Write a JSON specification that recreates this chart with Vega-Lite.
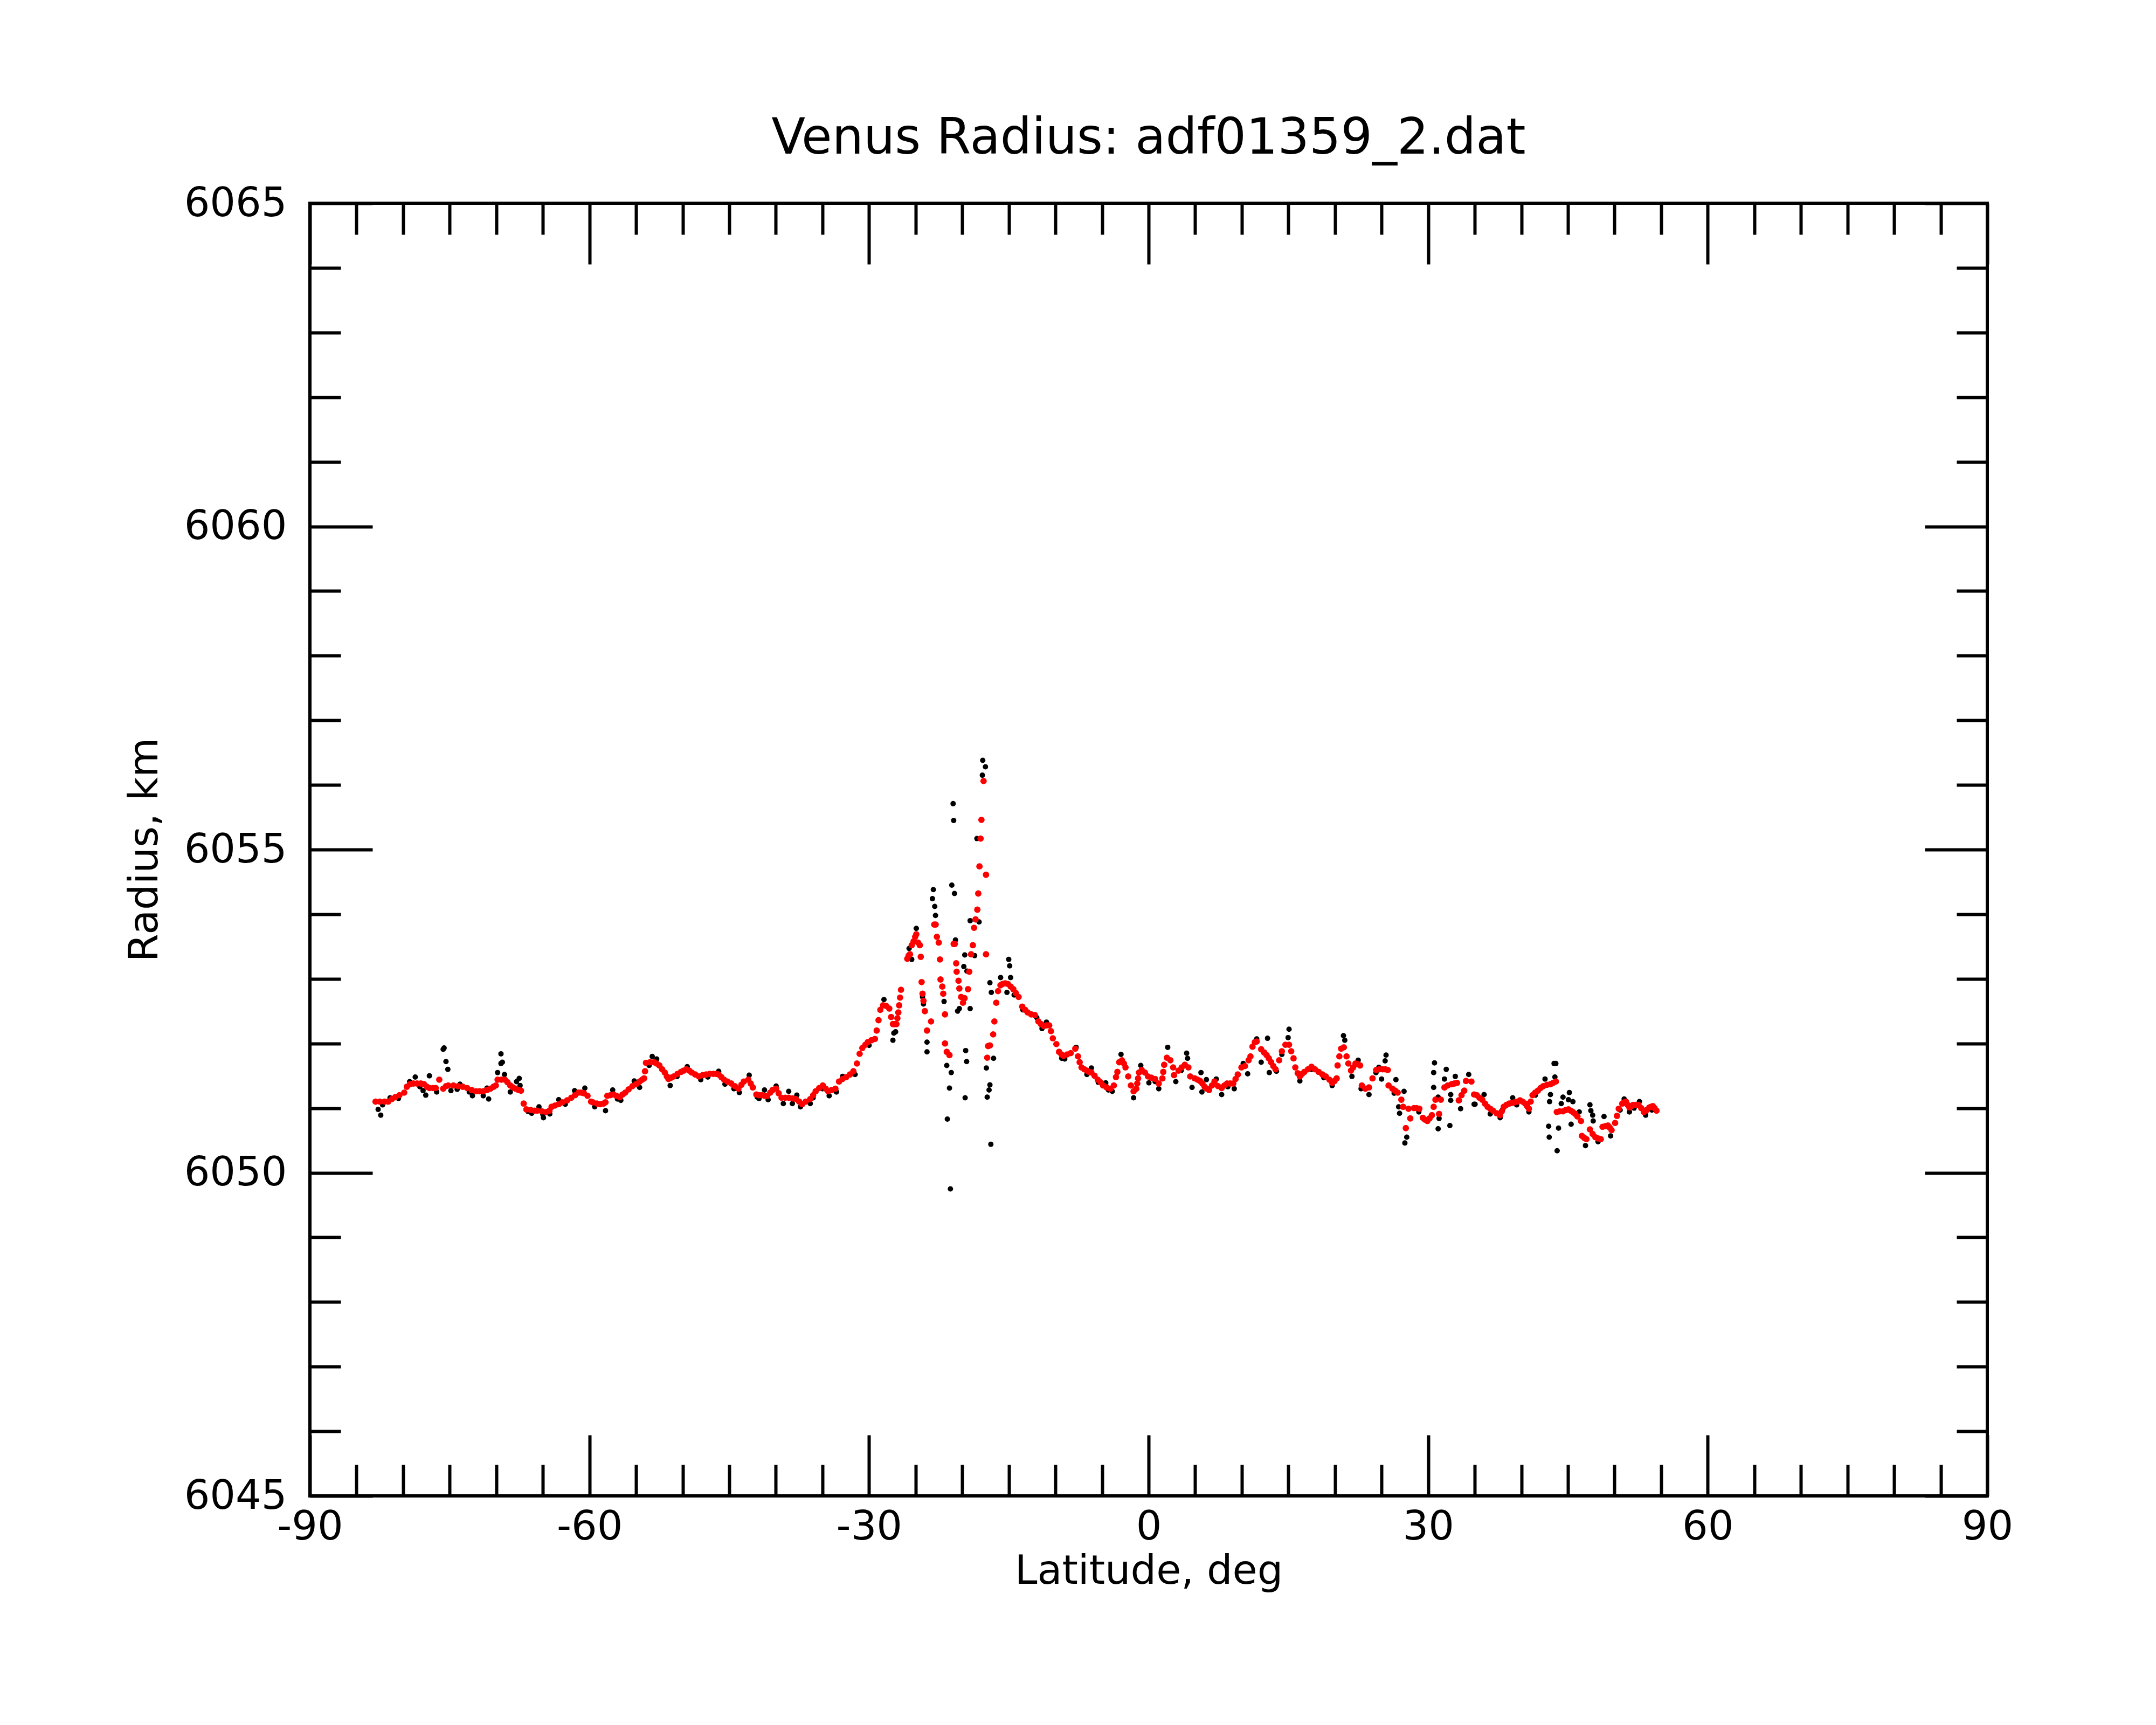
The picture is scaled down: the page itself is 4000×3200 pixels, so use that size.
{
  "$schema": "https://vega.github.io/schema/vega-lite/v6.json",
  "autosize": "none",
  "width": 3112,
  "height": 2398,
  "padding": {"left": 575, "top": 377, "right": 313, "bottom": 425},
  "background": "white",
  "title": {"text": "Venus Radius: adf01359_2.dat", "font": "DejaVu Sans", "fontSize": 92, "fontWeight": "normal", "color": "black", "anchor": "middle", "frame": "group", "baseline": "alphabetic", "offset": -37},
  "config": {
    "view": {"stroke": "black", "strokeWidth": 6},
    "axis": {"domain": false, "grid": false, "tickColor": "black", "tickWidth": 6, "labelFont": "DejaVu Sans", "labelFontSize": 75, "labelColor": "black", "labelFlush": false, "labelLimit": 0, "labelExpr": "datum.value + ''", "titleFont": "DejaVu Sans", "titleFontSize": 75, "titleFontWeight": "normal", "titleColor": "black"}
  },
  "datasets": {
    "raw": [
      {"lat": -82.68, "r": 6050.98}, {"lat": -82.4, "r": 6050.89}, {"lat": -82.2, "r": 6051.05}, {"lat": -81.4, "r": 6051.16},
      {"lat": -80.5, "r": 6051.15}, {"lat": -78.2, "r": 6051.33}, {"lat": -74.2, "r": 6051.29}, {"lat": -72.9, "r": 6051.25},
      {"lat": -79.3, "r": 6051.41}, {"lat": -78.7, "r": 6051.48}, {"lat": -77.86, "r": 6051.27}, {"lat": -77.57, "r": 6051.2},
      {"lat": -77.18, "r": 6051.5}, {"lat": -76.4, "r": 6051.25}, {"lat": -75.7, "r": 6051.91}, {"lat": -75.6, "r": 6051.93},
      {"lat": -75.4, "r": 6051.72}, {"lat": -75.2, "r": 6051.6}, {"lat": -74.87, "r": 6051.27}, {"lat": -73.9, "r": 6051.37},
      {"lat": -72.56, "r": 6051.19}, {"lat": -71.4, "r": 6051.19}, {"lat": -71.0, "r": 6051.31}, {"lat": -70.82, "r": 6051.14},
      {"lat": -69.5, "r": 6051.84}, {"lat": -69.5, "r": 6051.69}, {"lat": -69.35, "r": 6051.71}, {"lat": -69.86, "r": 6051.55},
      {"lat": -69.12, "r": 6051.52}, {"lat": -68.5, "r": 6051.25}, {"lat": -67.83, "r": 6051.41}, {"lat": -67.54, "r": 6051.46},
      {"lat": -67.45, "r": 6051.35}, {"lat": -66.6, "r": 6050.95}, {"lat": -66.2, "r": 6050.92}, {"lat": -65.0, "r": 6050.9},
      {"lat": -65.42, "r": 6051.02}, {"lat": -64.94, "r": 6050.85}, {"lat": -64.26, "r": 6050.91}, {"lat": -63.3, "r": 6051.13},
      {"lat": -62.6, "r": 6051.06}, {"lat": -61.6, "r": 6051.27}, {"lat": -60.5, "r": 6051.31}, {"lat": -57.0, "r": 6051.14},
      {"lat": -59.44, "r": 6051.02}, {"lat": -58.28, "r": 6050.96}, {"lat": -57.51, "r": 6051.28}, {"lat": -56.64, "r": 6051.12},
      {"lat": -55.2, "r": 6051.42}, {"lat": -54.62, "r": 6051.32}, {"lat": -53.27, "r": 6051.8}, {"lat": -52.79, "r": 6051.76},
      {"lat": -53.6, "r": 6051.66}, {"lat": -50.6, "r": 6051.49}, {"lat": -47.3, "r": 6051.48}, {"lat": -44.5, "r": 6051.3},
      {"lat": -51.34, "r": 6051.35}, {"lat": -49.51, "r": 6051.64}, {"lat": -48.06, "r": 6051.44}, {"lat": -46.14, "r": 6051.57},
      {"lat": -45.46, "r": 6051.37}, {"lat": -43.92, "r": 6051.24}, {"lat": -42.86, "r": 6051.51}, {"lat": -42.0, "r": 6051.17},
      {"lat": -41.22, "r": 6051.28}, {"lat": -40.83, "r": 6051.13}, {"lat": -39.97, "r": 6051.34}, {"lat": -39.2, "r": 6051.07},
      {"lat": -41.8, "r": 6051.15}, {"lat": -36.0, "r": 6051.16}, {"lat": -35.0, "r": 6051.3}, {"lat": -33.5, "r": 6051.25},
      {"lat": -38.62, "r": 6051.26}, {"lat": -38.23, "r": 6051.07}, {"lat": -37.75, "r": 6051.2}, {"lat": -37.36, "r": 6051.02},
      {"lat": -36.31, "r": 6051.07}, {"lat": -34.28, "r": 6051.19}, {"lat": -32.84, "r": 6051.49}, {"lat": -28.4, "r": 6052.68},
      {"lat": -31.5, "r": 6051.52}, {"lat": -30.0, "r": 6051.97},
      {"lat": -27.44, "r": 6052.05}, {"lat": -27.34, "r": 6052.16}, {"lat": -27.15, "r": 6052.18}, {"lat": -25.7, "r": 6053.47},
      {"lat": -25.42, "r": 6053.3}, {"lat": -24.93, "r": 6053.78}, {"lat": -24.26, "r": 6052.72}, {"lat": -24.16, "r": 6052.61},
      {"lat": -23.78, "r": 6052.02}, {"lat": -23.78, "r": 6051.87}, {"lat": -23.2, "r": 6054.24}, {"lat": -23.1, "r": 6054.38},
      {"lat": -22.95, "r": 6054.12}, {"lat": -22.87, "r": 6053.98}, {"lat": -21.95, "r": 6052.65}, {"lat": -21.66, "r": 6051.66},
      {"lat": -21.6, "r": 6050.83}, {"lat": -21.37, "r": 6051.31}, {"lat": -21.27, "r": 6049.75}, {"lat": -21.18, "r": 6051.55},
      {"lat": -21.12, "r": 6054.45}, {"lat": -20.98, "r": 6055.71}, {"lat": -20.92, "r": 6055.45}, {"lat": -20.83, "r": 6054.32},
      {"lat": -20.73, "r": 6053.6}, {"lat": -20.5, "r": 6052.5}, {"lat": -20.31, "r": 6052.54}, {"lat": -19.83, "r": 6053.19},
      {"lat": -19.73, "r": 6053.37}, {"lat": -19.69, "r": 6051.16}, {"lat": -19.63, "r": 6051.89}, {"lat": -19.53, "r": 6051.72},
      {"lat": -19.5, "r": 6053.12}, {"lat": -19.15, "r": 6053.9}, {"lat": -19.15, "r": 6052.54}, {"lat": -18.67, "r": 6053.36},
      {"lat": -18.42, "r": 6055.17}, {"lat": -18.19, "r": 6053.88}, {"lat": -17.84, "r": 6056.15}, {"lat": -17.8, "r": 6056.38},
      {"lat": -17.51, "r": 6056.28}, {"lat": -17.41, "r": 6051.62}, {"lat": -17.32, "r": 6051.17}, {"lat": -17.12, "r": 6051.28},
      {"lat": -17.03, "r": 6051.36}, {"lat": -17.03, "r": 6052.94}, {"lat": -16.93, "r": 6050.44}, {"lat": -16.88, "r": 6052.79},
      {"lat": -16.64, "r": 6051.77}, {"lat": -15.88, "r": 6053.02}, {"lat": -15.2, "r": 6052.79}, {"lat": -15.01, "r": 6053.3},
      {"lat": -14.91, "r": 6053.2}, {"lat": -14.81, "r": 6053.02}, {"lat": -14.43, "r": 6052.75}, {"lat": -11.44, "r": 6052.23},
      {"lat": -13.5, "r": 6052.52}, {"lat": -12.0, "r": 6052.4}, {"lat": -9.0, "r": 6051.76}, {"lat": -5.4, "r": 6051.4},
      {"lat": -3.9, "r": 6051.26}, {"lat": 0.7, "r": 6051.41}, {"lat": 3.5, "r": 6051.58}, {"lat": 8.5, "r": 6051.33},
      {"lat": -10.96, "r": 6052.33}, {"lat": -9.32, "r": 6051.77}, {"lat": -7.78, "r": 6051.94}, {"lat": -6.62, "r": 6051.52},
      {"lat": -6.14, "r": 6051.62}, {"lat": -4.6, "r": 6051.39}, {"lat": -4.31, "r": 6051.28}, {"lat": -2.96, "r": 6051.83},
      {"lat": -1.61, "r": 6051.16}, {"lat": -0.84, "r": 6051.66}, {"lat": 0.03, "r": 6051.39}, {"lat": 1.09, "r": 6051.3},
      {"lat": 2.05, "r": 6051.94}, {"lat": 2.92, "r": 6051.41}, {"lat": 4.08, "r": 6051.85}, {"lat": 4.18, "r": 6051.77},
      {"lat": 4.66, "r": 6051.32}, {"lat": 5.62, "r": 6051.55}, {"lat": 5.72, "r": 6051.25}, {"lat": 6.2, "r": 6051.44},
      {"lat": 7.26, "r": 6051.45}, {"lat": 7.84, "r": 6051.21}, {"lat": 9.19, "r": 6051.3}, {"lat": 10.15, "r": 6051.69},
      {"lat": 11.6, "r": 6052.07}, {"lat": 14.3, "r": 6051.83}, {"lat": 17.5, "r": 6051.6}, {"lat": 18.8, "r": 6051.47},
      {"lat": 10.63, "r": 6051.53}, {"lat": 12.08, "r": 6051.71}, {"lat": 12.76, "r": 6052.08}, {"lat": 12.95, "r": 6051.55},
      {"lat": 13.72, "r": 6051.57}, {"lat": 14.97, "r": 6052.09}, {"lat": 15.07, "r": 6052.22}, {"lat": 16.23, "r": 6051.42},
      {"lat": 19.7, "r": 6051.35}, {"lat": 20.91, "r": 6052.12}, {"lat": 21.05, "r": 6052.05}, {"lat": 21.82, "r": 6051.49},
      {"lat": 22.49, "r": 6051.74}, {"lat": 23.65, "r": 6051.21}, {"lat": 24.71, "r": 6051.63}, {"lat": 25.0, "r": 6051.45},
      {"lat": 22.8, "r": 6051.3}, {"lat": 24.4, "r": 6051.55}, {"lat": 29.0, "r": 6050.94}, {"lat": 38.0, "r": 6050.98},
      {"lat": 25.38, "r": 6051.73}, {"lat": 25.48, "r": 6051.82}, {"lat": 26.35, "r": 6051.23}, {"lat": 26.54, "r": 6051.44},
      {"lat": 26.83, "r": 6051.02}, {"lat": 26.93, "r": 6050.92}, {"lat": 27.41, "r": 6051.26}, {"lat": 27.5, "r": 6050.46},
      {"lat": 27.7, "r": 6050.55}, {"lat": 30.59, "r": 6051.32}, {"lat": 30.59, "r": 6051.55}, {"lat": 30.68, "r": 6051.7},
      {"lat": 31.07, "r": 6051.17}, {"lat": 31.07, "r": 6050.68}, {"lat": 31.17, "r": 6050.84}, {"lat": 31.75, "r": 6051.45},
      {"lat": 31.94, "r": 6051.6}, {"lat": 32.33, "r": 6050.73}, {"lat": 32.42, "r": 6051.21}, {"lat": 32.42, "r": 6051.12},
      {"lat": 32.91, "r": 6051.49}, {"lat": 33.48, "r": 6050.99}, {"lat": 34.35, "r": 6051.52}, {"lat": 34.93, "r": 6051.06},
      {"lat": 35.03, "r": 6051.06}, {"lat": 36.0, "r": 6051.21}, {"lat": 36.66, "r": 6050.91}, {"lat": 37.72, "r": 6050.85},
      {"lat": 39.5, "r": 6051.05}, {"lat": 41.5, "r": 6051.2}, {"lat": 50.6, "r": 6050.97}, {"lat": 52.1, "r": 6051.0},
      {"lat": 54.0, "r": 6050.97},
      {"lat": 39.07, "r": 6051.16}, {"lat": 40.81, "r": 6050.94}, {"lat": 42.54, "r": 6051.45}, {"lat": 42.93, "r": 6050.72},
      {"lat": 42.99, "r": 6050.55}, {"lat": 43.03, "r": 6051.1}, {"lat": 43.12, "r": 6051.21}, {"lat": 43.51, "r": 6051.69},
      {"lat": 43.6, "r": 6051.48}, {"lat": 43.7, "r": 6051.69}, {"lat": 43.84, "r": 6050.34}, {"lat": 43.99, "r": 6050.69},
      {"lat": 44.28, "r": 6051.07}, {"lat": 44.47, "r": 6051.17}, {"lat": 45.05, "r": 6051.13}, {"lat": 45.15, "r": 6051.24},
      {"lat": 45.34, "r": 6050.75}, {"lat": 45.53, "r": 6051.1}, {"lat": 46.21, "r": 6050.94}, {"lat": 46.88, "r": 6050.42},
      {"lat": 47.36, "r": 6051.05}, {"lat": 47.46, "r": 6050.96}, {"lat": 47.65, "r": 6050.89}, {"lat": 47.71, "r": 6050.8},
      {"lat": 48.23, "r": 6050.48}, {"lat": 48.87, "r": 6050.87}, {"lat": 49.58, "r": 6050.57}, {"lat": 51.03, "r": 6051.14},
      {"lat": 51.6, "r": 6050.94}, {"lat": 52.67, "r": 6051.1}, {"lat": 53.34, "r": 6050.89}
    ],
    "fit": [
      {"lat": -82.96, "r": 6051.1}, {"lat": -82.5, "r": 6051.1}, {"lat": -82.0, "r": 6051.1}, {"lat": -81.6, "r": 6051.1},
      {"lat": -81.2, "r": 6051.14}, {"lat": -80.84, "r": 6051.17}, {"lat": -80.4, "r": 6051.2}, {"lat": -79.88, "r": 6051.24},
      {"lat": -79.6, "r": 6051.33}, {"lat": -79.25, "r": 6051.37}, {"lat": -78.9, "r": 6051.38}, {"lat": -78.5, "r": 6051.38},
      {"lat": -78.1, "r": 6051.38}, {"lat": -77.76, "r": 6051.37}, {"lat": -77.45, "r": 6051.33}, {"lat": -77.18, "r": 6051.31},
      {"lat": -76.8, "r": 6051.31}, {"lat": -76.5, "r": 6051.31}, {"lat": -76.12, "r": 6051.44}, {"lat": -75.7, "r": 6051.3},
      {"lat": -75.4, "r": 6051.34}, {"lat": -75.16, "r": 6051.35}, {"lat": -74.6, "r": 6051.35}, {"lat": -74.1, "r": 6051.34},
      {"lat": -73.6, "r": 6051.33}, {"lat": -73.13, "r": 6051.31}, {"lat": -72.65, "r": 6051.28}, {"lat": -72.17, "r": 6051.26},
      {"lat": -71.8, "r": 6051.26}, {"lat": -71.4, "r": 6051.26}, {"lat": -71.0, "r": 6051.28}, {"lat": -70.63, "r": 6051.3},
      {"lat": -70.3, "r": 6051.33}, {"lat": -70.05, "r": 6051.35}, {"lat": -69.86, "r": 6051.44}, {"lat": -69.45, "r": 6051.44},
      {"lat": -69.08, "r": 6051.44}, {"lat": -68.8, "r": 6051.4}, {"lat": -68.5, "r": 6051.35}, {"lat": -68.2, "r": 6051.32},
      {"lat": -67.93, "r": 6051.3}, {"lat": -67.6, "r": 6051.28}, {"lat": -67.35, "r": 6051.27}, {"lat": -67.06, "r": 6051.07},
      {"lat": -66.77, "r": 6050.98}, {"lat": -66.3, "r": 6050.97}, {"lat": -65.9, "r": 6050.96}, {"lat": -65.6, "r": 6050.96},
      {"lat": -65.1, "r": 6050.95}, {"lat": -64.65, "r": 6050.94}, {"lat": -64.3, "r": 6050.96}, {"lat": -64.07, "r": 6051.02},
      {"lat": -63.7, "r": 6051.04}, {"lat": -63.3, "r": 6051.06}, {"lat": -62.9, "r": 6051.09}, {"lat": -62.4, "r": 6051.12},
      {"lat": -61.95, "r": 6051.16}, {"lat": -61.55, "r": 6051.2}, {"lat": -61.18, "r": 6051.24}, {"lat": -60.9, "r": 6051.24},
      {"lat": -60.6, "r": 6051.23}, {"lat": -60.21, "r": 6051.19}, {"lat": -59.83, "r": 6051.1}, {"lat": -59.63, "r": 6051.09},
      {"lat": -59.2, "r": 6051.07}, {"lat": -58.86, "r": 6051.06}, {"lat": -58.5, "r": 6051.07}, {"lat": -58.28, "r": 6051.09},
      {"lat": -58.09, "r": 6051.19}, {"lat": -57.75, "r": 6051.2}, {"lat": -57.42, "r": 6051.21}, {"lat": -57.1, "r": 6051.19},
      {"lat": -56.74, "r": 6051.17}, {"lat": -56.45, "r": 6051.21}, {"lat": -56.16, "r": 6051.24}, {"lat": -55.8, "r": 6051.29},
      {"lat": -55.39, "r": 6051.34}, {"lat": -55.0, "r": 6051.37}, {"lat": -54.62, "r": 6051.41}, {"lat": -54.35, "r": 6051.44},
      {"lat": -54.14, "r": 6051.46}, {"lat": -54.04, "r": 6051.57}, {"lat": -53.94, "r": 6051.7}, {"lat": -53.5, "r": 6051.71},
      {"lat": -53.08, "r": 6051.71}, {"lat": -52.8, "r": 6051.69}, {"lat": -52.5, "r": 6051.66}, {"lat": -52.2, "r": 6051.6},
      {"lat": -51.92, "r": 6051.55}, {"lat": -51.7, "r": 6051.49}, {"lat": -51.53, "r": 6051.45}, {"lat": -51.25, "r": 6051.47},
      {"lat": -50.96, "r": 6051.49}, {"lat": -50.55, "r": 6051.53}, {"lat": -50.18, "r": 6051.56}, {"lat": -49.9, "r": 6051.58},
      {"lat": -49.61, "r": 6051.6}, {"lat": -49.3, "r": 6051.58}, {"lat": -49.03, "r": 6051.55}, {"lat": -48.65, "r": 6051.52},
      {"lat": -48.26, "r": 6051.49}, {"lat": -47.85, "r": 6051.51}, {"lat": -47.48, "r": 6051.52}, {"lat": -47.1, "r": 6051.53},
      {"lat": -46.71, "r": 6051.53}, {"lat": -46.4, "r": 6051.53}, {"lat": -46.14, "r": 6051.52}, {"lat": -45.85, "r": 6051.48},
      {"lat": -45.56, "r": 6051.44}, {"lat": -45.2, "r": 6051.41}, {"lat": -44.79, "r": 6051.38}, {"lat": -44.4, "r": 6051.34},
      {"lat": -44.02, "r": 6051.3}, {"lat": -43.7, "r": 6051.36}, {"lat": -43.44, "r": 6051.41}, {"lat": -42.96, "r": 6051.44},
      {"lat": -42.7, "r": 6051.38}, {"lat": -42.47, "r": 6051.32}, {"lat": -42.09, "r": 6051.21}, {"lat": -41.8, "r": 6051.2},
      {"lat": -41.51, "r": 6051.2}, {"lat": -41.2, "r": 6051.19}, {"lat": -40.93, "r": 6051.19}, {"lat": -40.6, "r": 6051.24},
      {"lat": -40.35, "r": 6051.28}, {"lat": -39.97, "r": 6051.3}, {"lat": -39.7, "r": 6051.23}, {"lat": -39.39, "r": 6051.16},
      {"lat": -39.0, "r": 6051.16}, {"lat": -38.62, "r": 6051.16}, {"lat": -38.2, "r": 6051.15}, {"lat": -37.85, "r": 6051.14},
      {"lat": -37.5, "r": 6051.1}, {"lat": -37.17, "r": 6051.06}, {"lat": -36.8, "r": 6051.1}, {"lat": -36.31, "r": 6051.14},
      {"lat": -36.0, "r": 6051.2}, {"lat": -35.73, "r": 6051.26}, {"lat": -35.35, "r": 6051.31}, {"lat": -34.96, "r": 6051.35},
      {"lat": -34.65, "r": 6051.3}, {"lat": -34.38, "r": 6051.26}, {"lat": -34.0, "r": 6051.28}, {"lat": -33.61, "r": 6051.3},
      {"lat": -33.22, "r": 6051.41}, {"lat": -32.85, "r": 6051.45}, {"lat": -32.45, "r": 6051.48}, {"lat": -32.05, "r": 6051.52},
      {"lat": -31.68, "r": 6051.57}, {"lat": -31.3, "r": 6051.69}, {"lat": -31.01, "r": 6051.84}, {"lat": -30.72, "r": 6051.93},
      {"lat": -30.4, "r": 6051.98}, {"lat": -30.14, "r": 6052.02}, {"lat": -29.75, "r": 6052.05}, {"lat": -29.37, "r": 6052.07},
      {"lat": -29.18, "r": 6052.2}, {"lat": -28.98, "r": 6052.36}, {"lat": -28.79, "r": 6052.52}, {"lat": -28.5, "r": 6052.59},
      {"lat": -28.15, "r": 6052.58}, {"lat": -27.83, "r": 6052.54}, {"lat": -27.63, "r": 6052.41}, {"lat": -27.44, "r": 6052.3},
      {"lat": -27.25, "r": 6052.3}, {"lat": -27.06, "r": 6052.3}, {"lat": -26.96, "r": 6052.39}, {"lat": -26.86, "r": 6052.48},
      {"lat": -26.77, "r": 6052.59}, {"lat": -26.67, "r": 6052.71}, {"lat": -26.57, "r": 6052.83}, {"lat": -25.9, "r": 6053.31},
      {"lat": -25.75, "r": 6053.36}, {"lat": -25.61, "r": 6053.38}, {"lat": -25.42, "r": 6053.52}, {"lat": -25.22, "r": 6053.58},
      {"lat": -25.05, "r": 6053.65}, {"lat": -24.93, "r": 6053.69}, {"lat": -24.74, "r": 6053.56}, {"lat": -24.55, "r": 6053.52},
      {"lat": -24.45, "r": 6053.34}, {"lat": -24.36, "r": 6052.95}, {"lat": -24.26, "r": 6052.77}, {"lat": -24.16, "r": 6052.66},
      {"lat": -24.01, "r": 6052.5}, {"lat": -23.78, "r": 6052.2}, {"lat": -23.35, "r": 6052.34}, {"lat": -23.01, "r": 6053.84},
      {"lat": -22.85, "r": 6053.84}, {"lat": -22.72, "r": 6053.65}, {"lat": -22.52, "r": 6053.56}, {"lat": -22.39, "r": 6053.3},
      {"lat": -22.33, "r": 6052.99}, {"lat": -22.14, "r": 6052.88}, {"lat": -22.04, "r": 6052.77}, {"lat": -21.85, "r": 6052.45},
      {"lat": -21.85, "r": 6052.0}, {"lat": -21.66, "r": 6051.87}, {"lat": -21.37, "r": 6051.82}, {"lat": -20.92, "r": 6053.54},
      {"lat": -20.8, "r": 6053.54}, {"lat": -20.65, "r": 6053.24}, {"lat": -20.6, "r": 6053.11}, {"lat": -20.4, "r": 6052.97},
      {"lat": -20.31, "r": 6052.85}, {"lat": -20.12, "r": 6052.72}, {"lat": -19.92, "r": 6052.63}, {"lat": -19.75, "r": 6052.7},
      {"lat": -19.38, "r": 6052.84}, {"lat": -19.25, "r": 6053.11}, {"lat": -19.05, "r": 6053.38}, {"lat": -18.86, "r": 6053.52},
      {"lat": -18.73, "r": 6053.79}, {"lat": -18.57, "r": 6053.92}, {"lat": -18.38, "r": 6054.07}, {"lat": -18.28, "r": 6054.32},
      {"lat": -18.15, "r": 6054.74}, {"lat": -18.03, "r": 6055.17}, {"lat": -17.94, "r": 6055.46}, {"lat": -17.71, "r": 6056.06},
      {"lat": -17.45, "r": 6054.61}, {"lat": -17.45, "r": 6053.38}, {"lat": -17.32, "r": 6051.78}, {"lat": -17.22, "r": 6051.96},
      {"lat": -17.03, "r": 6051.97}, {"lat": -16.68, "r": 6052.14}, {"lat": -16.55, "r": 6052.34}, {"lat": -16.35, "r": 6052.63},
      {"lat": -16.16, "r": 6052.81}, {"lat": -15.9, "r": 6052.9}, {"lat": -15.68, "r": 6052.92}, {"lat": -15.4, "r": 6052.93},
      {"lat": -15.1, "r": 6052.92}, {"lat": -14.8, "r": 6052.88}, {"lat": -14.52, "r": 6052.84}, {"lat": -14.25, "r": 6052.78},
      {"lat": -13.95, "r": 6052.72}, {"lat": -13.56, "r": 6052.57}, {"lat": -13.25, "r": 6052.52}, {"lat": -12.98, "r": 6052.48},
      {"lat": -12.6, "r": 6052.45}, {"lat": -12.21, "r": 6052.44}, {"lat": -11.83, "r": 6052.34}, {"lat": -11.55, "r": 6052.3},
      {"lat": -11.25, "r": 6052.27}, {"lat": -10.95, "r": 6052.28}, {"lat": -10.67, "r": 6052.28}, {"lat": -10.48, "r": 6052.19},
      {"lat": -10.28, "r": 6052.08}, {"lat": -9.9, "r": 6051.99}, {"lat": -9.61, "r": 6051.87}, {"lat": -9.35, "r": 6051.83},
      {"lat": -9.13, "r": 6051.81}, {"lat": -8.75, "r": 6051.83}, {"lat": -8.36, "r": 6051.85}, {"lat": -7.87, "r": 6051.92},
      {"lat": -7.58, "r": 6051.8}, {"lat": -7.4, "r": 6051.71}, {"lat": -7.2, "r": 6051.63}, {"lat": -6.9, "r": 6051.6},
      {"lat": -6.62, "r": 6051.58}, {"lat": -6.38, "r": 6051.56}, {"lat": -6.14, "r": 6051.55}, {"lat": -5.8, "r": 6051.5}, {"lat": -5.46, "r": 6051.44},
      {"lat": -5.15, "r": 6051.4}, {"lat": -4.89, "r": 6051.35}, {"lat": -4.5, "r": 6051.32}, {"lat": -4.11, "r": 6051.3},
      {"lat": -3.73, "r": 6051.35}, {"lat": -3.5, "r": 6051.48}, {"lat": -3.35, "r": 6051.56}, {"lat": -3.15, "r": 6051.71},
      {"lat": -2.86, "r": 6051.74}, {"lat": -2.65, "r": 6051.69}, {"lat": -2.48, "r": 6051.63}, {"lat": -2.19, "r": 6051.49},
      {"lat": -1.9, "r": 6051.35}, {"lat": -1.61, "r": 6051.26}, {"lat": -1.32, "r": 6051.3}, {"lat": -1.22, "r": 6051.38},
      {"lat": -1.13, "r": 6051.46}, {"lat": -1.03, "r": 6051.55}, {"lat": -0.74, "r": 6051.59}, {"lat": -0.4, "r": 6051.55},
      {"lat": -0.07, "r": 6051.49}, {"lat": 0.3, "r": 6051.47}, {"lat": 0.7, "r": 6051.45}, {"lat": 1.09, "r": 6051.38},
      {"lat": 1.48, "r": 6051.46}, {"lat": 1.57, "r": 6051.56}, {"lat": 1.67, "r": 6051.67}, {"lat": 1.96, "r": 6051.78},
      {"lat": 2.34, "r": 6051.74}, {"lat": 2.63, "r": 6051.63}, {"lat": 2.73, "r": 6051.51}, {"lat": 3.21, "r": 6051.58},
      {"lat": 3.55, "r": 6051.63}, {"lat": 3.89, "r": 6051.67}, {"lat": 4.27, "r": 6051.63}, {"lat": 4.46, "r": 6051.49},
      {"lat": 4.95, "r": 6051.46}, {"lat": 5.25, "r": 6051.44}, {"lat": 5.52, "r": 6051.42}, {"lat": 5.77, "r": 6051.38}, {"lat": 6.01, "r": 6051.33},
      {"lat": 6.25, "r": 6051.3}, {"lat": 6.49, "r": 6051.28},
      {"lat": 6.8, "r": 6051.35}, {"lat": 7.07, "r": 6051.41}, {"lat": 7.45, "r": 6051.34}, {"lat": 7.84, "r": 6051.31},
      {"lat": 8.13, "r": 6051.35}, {"lat": 8.42, "r": 6051.38}, {"lat": 8.75, "r": 6051.38}, {"lat": 9.09, "r": 6051.38}, {"lat": 9.33, "r": 6051.45},
      {"lat": 9.57, "r": 6051.52}, {"lat": 9.96, "r": 6051.63},
      {"lat": 10.34, "r": 6051.65}, {"lat": 10.73, "r": 6051.74}, {"lat": 10.93, "r": 6051.8}, {"lat": 11.15, "r": 6051.95},
      {"lat": 11.4, "r": 6052.02}, {"lat": 11.6, "r": 6052.03}, {"lat": 12.08, "r": 6051.91}, {"lat": 12.4, "r": 6051.86},
      {"lat": 12.66, "r": 6051.82}, {"lat": 12.9, "r": 6051.77}, {"lat": 13.14, "r": 6051.71}, {"lat": 13.38, "r": 6051.65}, {"lat": 13.62, "r": 6051.6}, {"lat": 14.01, "r": 6051.74},
      {"lat": 14.3, "r": 6051.88}, {"lat": 14.68, "r": 6051.98}, {"lat": 15.07, "r": 6051.98}, {"lat": 15.3, "r": 6051.88},
      {"lat": 15.55, "r": 6051.77}, {"lat": 15.74, "r": 6051.63}, {"lat": 16.0, "r": 6051.54}, {"lat": 16.23, "r": 6051.49},
      {"lat": 16.47, "r": 6051.53}, {"lat": 16.71, "r": 6051.56}, {"lat": 17.1, "r": 6051.6}, {"lat": 17.48, "r": 6051.64}, {"lat": 17.85, "r": 6051.6},
      {"lat": 18.25, "r": 6051.56}, {"lat": 18.65, "r": 6051.52}, {"lat": 19.02, "r": 6051.49}, {"lat": 19.4, "r": 6051.44},
      {"lat": 19.7, "r": 6051.39}, {"lat": 19.95, "r": 6051.42}, {"lat": 20.18, "r": 6051.46}, {"lat": 20.28, "r": 6051.66}, {"lat": 20.47, "r": 6051.8},
      {"lat": 20.66, "r": 6051.92}, {"lat": 20.95, "r": 6051.94}, {"lat": 21.24, "r": 6051.8}, {"lat": 21.43, "r": 6051.69},
      {"lat": 21.72, "r": 6051.58}, {"lat": 21.95, "r": 6051.63}, {"lat": 22.2, "r": 6051.69}, {"lat": 22.45, "r": 6051.68}, {"lat": 22.69, "r": 6051.66},
      {"lat": 22.88, "r": 6051.35}, {"lat": 23.26, "r": 6051.3}, {"lat": 23.65, "r": 6051.32}, {"lat": 24.03, "r": 6051.46},
      {"lat": 24.42, "r": 6051.59}, {"lat": 24.75, "r": 6051.6}, {"lat": 25.1, "r": 6051.6}, {"lat": 25.4, "r": 6051.6},
      {"lat": 25.67, "r": 6051.59}, {"lat": 25.75, "r": 6051.35}, {"lat": 26.16, "r": 6051.3}, {"lat": 26.45, "r": 6051.27},
      {"lat": 26.73, "r": 6051.24}, {"lat": 27.12, "r": 6051.13}, {"lat": 27.31, "r": 6051.02}, {"lat": 27.6, "r": 6050.69},
      {"lat": 28.08, "r": 6050.84}, {"lat": 27.89, "r": 6050.99}, {"lat": 28.47, "r": 6051.0}, {"lat": 28.76, "r": 6051.0}, {"lat": 29.05, "r": 6050.99},
      {"lat": 29.43, "r": 6050.85}, {"lat": 29.67, "r": 6050.82}, {"lat": 29.91, "r": 6050.8}, {"lat": 30.15, "r": 6050.84}, {"lat": 30.4, "r": 6050.89}, {"lat": 30.59, "r": 6051.02},
      {"lat": 30.78, "r": 6051.13}, {"lat": 31.17, "r": 6050.91}, {"lat": 31.36, "r": 6051.13}, {"lat": 31.75, "r": 6051.32},
      {"lat": 32.1, "r": 6051.35}, {"lat": 32.52, "r": 6051.37}, {"lat": 32.8, "r": 6051.38}, {"lat": 33.1, "r": 6051.39}, {"lat": 33.29, "r": 6051.12},
      {"lat": 33.58, "r": 6051.2}, {"lat": 33.87, "r": 6051.27}, {"lat": 34.06, "r": 6051.42}, {"lat": 34.64, "r": 6051.41}, {"lat": 34.93, "r": 6051.21},
      {"lat": 35.22, "r": 6051.2}, {"lat": 35.5, "r": 6051.16}, {"lat": 35.8, "r": 6051.13}, {"lat": 36.1, "r": 6051.07},
      {"lat": 36.38, "r": 6051.02}, {"lat": 36.66, "r": 6050.99}, {"lat": 36.95, "r": 6050.96}, {"lat": 37.35, "r": 6050.92}, {"lat": 37.72, "r": 6050.89},
      {"lat": 37.9, "r": 6050.95}, {"lat": 38.11, "r": 6051.02}, {"lat": 38.4, "r": 6051.05}, {"lat": 38.69, "r": 6051.07}, {"lat": 38.98, "r": 6051.08},
      {"lat": 39.27, "r": 6051.09}, {"lat": 39.56, "r": 6051.1}, {"lat": 39.85, "r": 6051.12}, {"lat": 40.13, "r": 6051.1},
      {"lat": 40.42, "r": 6051.07}, {"lat": 40.62, "r": 6051.03}, {"lat": 40.81, "r": 6050.99}, {"lat": 41.0, "r": 6051.1}, {"lat": 41.2, "r": 6051.2},
      {"lat": 41.48, "r": 6051.24}, {"lat": 41.77, "r": 6051.27}, {"lat": 42.06, "r": 6051.31},
      {"lat": 42.35, "r": 6051.34}, {"lat": 42.75, "r": 6051.36}, {"lat": 43.12, "r": 6051.37}, {"lat": 43.4, "r": 6051.39}, {"lat": 43.7, "r": 6051.41},
      {"lat": 43.8, "r": 6050.94}, {"lat": 44.1, "r": 6050.95}, {"lat": 44.47, "r": 6050.95}, {"lat": 44.76, "r": 6050.97}, {"lat": 45.05, "r": 6050.98},
      {"lat": 45.29, "r": 6050.96}, {"lat": 45.53, "r": 6050.94}, {"lat": 45.78, "r": 6050.91}, {"lat": 46.02, "r": 6050.87}, {"lat": 46.4, "r": 6050.8}, {"lat": 46.5, "r": 6050.57},
      {"lat": 46.74, "r": 6050.54}, {"lat": 46.98, "r": 6050.52}, {"lat": 47.36, "r": 6050.67}, {"lat": 47.65, "r": 6050.6}, {"lat": 47.94, "r": 6050.55},
      {"lat": 48.23, "r": 6050.53}, {"lat": 48.52, "r": 6050.52},
      {"lat": 48.71, "r": 6050.71}, {"lat": 49.0, "r": 6050.72}, {"lat": 49.29, "r": 6050.73}, {"lat": 49.48, "r": 6050.7}, {"lat": 49.68, "r": 6050.66}, {"lat": 50.06, "r": 6050.77},
      {"lat": 50.26, "r": 6050.88}, {"lat": 50.45, "r": 6050.99}, {"lat": 50.83, "r": 6051.07}, {"lat": 51.02, "r": 6051.09}, {"lat": 51.22, "r": 6051.1},
      {"lat": 51.41, "r": 6051.05}, {"lat": 51.6, "r": 6051.01}, {"lat": 51.8, "r": 6051.03}, {"lat": 51.99, "r": 6051.05}, {"lat": 52.28, "r": 6051.05}, {"lat": 52.57, "r": 6051.05},
      {"lat": 52.86, "r": 6051.0}, {"lat": 53.15, "r": 6050.94}, {"lat": 53.44, "r": 6050.97},
      {"lat": 53.73, "r": 6051.01}, {"lat": 53.92, "r": 6051.02}, {"lat": 54.11, "r": 6051.03}, {"lat": 54.3, "r": 6051.0}, {"lat": 54.5, "r": 6050.96}
    ]
  },
  "layer": [
    {
      "data": {"name": "raw"},
      "mark": {"type": "circle", "color": "black", "opacity": 1, "size": 100},
      "encoding": {
        "x": {"field": "lat", "type": "quantitative", "scale": {"domain": [-90, 90], "nice": false, "zero": false},
              "axis": {"orient": "bottom", "values": [-90, -60, -30, 0, 30, 60, 90], "tickSize": -113, "labelPadding": 134, "title": "Latitude, deg", "titlePadding": 8}},
        "y": {"field": "r", "type": "quantitative", "scale": {"domain": [6045, 6065], "nice": false, "zero": false},
              "axis": {"orient": "left", "values": [6045, 6050, 6055, 6060, 6065], "tickSize": -116, "labelPadding": 159, "title": "Radius, km", "titlePadding": 68}}
      }
    },
    {
      "data": {"name": "fit"},
      "mark": {"type": "circle", "color": "#ff0000", "opacity": 1, "size": 140},
      "encoding": {
        "x": {"field": "lat", "type": "quantitative", "scale": {"domain": [-90, 90], "nice": false, "zero": false},
              "axis": {"orient": "bottom", "values": [-85, -80, -75, -70, -65, -55, -50, -45, -40, -35, -25, -20, -15, -10, -5, 5, 10, 15, 20, 25, 35, 40, 45, 50, 55, 65, 70, 75, 80, 85], "tickSize": -58, "labels": false, "title": null}},
        "y": {"field": "r", "type": "quantitative", "scale": {"domain": [6045, 6065], "nice": false, "zero": false},
              "axis": {"orient": "left", "values": [6046, 6047, 6048, 6049, 6051, 6052, 6053, 6054, 6056, 6057, 6058, 6059, 6061, 6062, 6063, 6064], "tickSize": -57, "labels": false, "title": null}}
      }
    },
    {
      "data": {"values": []},
      "mark": {"type": "circle", "opacity": 0},
      "encoding": {
        "x": {"field": "lat", "type": "quantitative", "scale": {"domain": [-90, 90], "nice": false, "zero": false},
              "axis": {"orient": "top", "values": [-90, -60, -30, 0, 30, 60, 90], "tickSize": -113, "labels": false, "title": null}},
        "y": {"field": "r", "type": "quantitative", "scale": {"domain": [6045, 6065], "nice": false, "zero": false},
              "axis": {"orient": "right", "values": [6045, 6050, 6055, 6060, 6065], "tickSize": -116, "labels": false, "title": null}}
      }
    },
    {
      "data": {"values": []},
      "mark": {"type": "circle", "opacity": 0},
      "encoding": {
        "x": {"field": "lat", "type": "quantitative", "scale": {"domain": [-90, 90], "nice": false, "zero": false},
              "axis": {"orient": "top", "values": [-85, -80, -75, -70, -65, -55, -50, -45, -40, -35, -25, -20, -15, -10, -5, 5, 10, 15, 20, 25, 35, 40, 45, 50, 55, 65, 70, 75, 80, 85], "tickSize": -58, "labels": false, "title": null}},
        "y": {"field": "r", "type": "quantitative", "scale": {"domain": [6045, 6065], "nice": false, "zero": false},
              "axis": {"orient": "right", "values": [6046, 6047, 6048, 6049, 6051, 6052, 6053, 6054, 6056, 6057, 6058, 6059, 6061, 6062, 6063, 6064], "tickSize": -57, "labels": false, "title": null}}
      }
    }
  ],
  "resolve": {"axis": {"x": "independent", "y": "independent"}}
}
